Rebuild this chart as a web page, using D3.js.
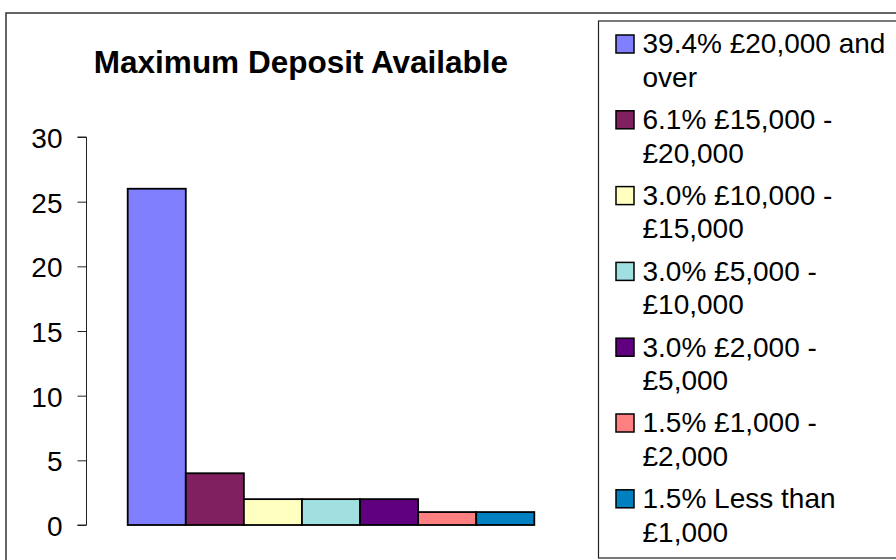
<!DOCTYPE html>
<html>
<head>
<meta charset="utf-8">
<script src="https://cdn.jsdelivr.net/npm/d3@7"></script>
<style>
  html, body { margin: 0; padding: 0; background: #fff; overflow: hidden; }
  svg { display: block; font-family: "Liberation Sans", Arial, sans-serif; }
</style>
</head>
<body>
<svg id="chart" width="896" height="560"></svg>
<script>
const title = "Maximum Deposit Available";
const categories = ["£20,000 and over", "£15,000 - £20,000", "£10,000 - £15,000",
  "£5,000 - £10,000", "£2,000 - £5,000", "£1,000 - £2,000", "Less than £1,000"];
const values = [26, 4, 2, 2, 2, 1, 1];
const percents = ["39.4%", "6.1%", "3.0%", "3.0%", "3.0%", "1.5%", "1.5%"];
const colors = ["#8080FF", "#802060", "#FFFFC0", "#A0E0E0", "#600080", "#FF8080", "#0080C0"];
const yTicks = [0, 5, 10, 15, 20, 25, 30];

const svg = d3.select("#chart");

// outer chart border
svg.append("rect").attr("x", 6).attr("y", 13).attr("width", 1000).attr("height", 1000)
  .attr("fill", "none").attr("stroke", "#333").attr("stroke-width", 1.5);

// plot area
const plot = { left: 86.5, right: 576, top: 137, bottom: 525 };
const y = d3.scaleLinear().domain([0, 30]).range([plot.bottom, plot.top]);
const x = d3.scaleBand().domain(categories).range([127.7, 534.3]).padding(0);

// title
svg.append("text").attr("x", 301).attr("y", 73.3).attr("text-anchor", "middle")
  .attr("font-size", 31.5).attr("font-weight", "bold").attr("fill", "#000").text(title);

// y axis
const yAxis = d3.axisLeft(y).tickValues(yTicks).tickSize(9).tickPadding(15).tickFormat(d3.format("d"));
const gy = svg.append("g").attr("transform", `translate(${plot.left},0)`).call(yAxis);
gy.select(".domain").attr("stroke", "#222").attr("d", `M-9,${y(30)}H0V${y(0)}H-9`);
gy.selectAll(".tick line").attr("stroke", "#222");
gy.selectAll(".tick text").attr("font-size", 28).attr("fill", "#000")
  .attr("font-family", "\"Liberation Sans\", Arial, sans-serif").attr("dy", "0.38em");

// bars
svg.append("g").selectAll("rect").data(values).join("rect")
  .attr("x", (d, i) => x(categories[i]))
  .attr("y", d => y(d))
  .attr("width", x.bandwidth())
  .attr("height", d => y(0) - y(d))
  .attr("fill", (d, i) => colors[i])
  .attr("stroke", "#000").attr("stroke-width", 1.8);

// legend box
svg.append("rect").attr("x", 598.5).attr("y", 21).attr("width", 400).attr("height", 537)
  .attr("fill", "#fff").attr("stroke", "#222").attr("stroke-width", 1.2);

const legendFirstBaseline = 53.3, itemStep = 75.8, lineStep = 33.4, textX = 642.5, maxW = 256;
const lg = svg.append("g");
categories.forEach((c, i) => {
  const base = legendFirstBaseline + i * itemStep;
  lg.append("rect").attr("x", 616).attr("y", base - 18.3).attr("width", 18).attr("height", 18)
    .attr("fill", colors[i]).attr("stroke", "#000").attr("stroke-width", 1.5);
  const words = (percents[i] + " " + c).split(" ");
  const t = lg.append("text").attr("x", textX).attr("y", base).attr("font-size", 28).attr("fill", "#000");
  let lines = [], cur = [];
  const probe = lg.append("text").attr("font-size", 28).attr("visibility", "hidden");
  words.forEach(w => {
    const tryLine = cur.concat([w]).join(" ");
    probe.text(tryLine);
    if (cur.length && probe.node().getComputedTextLength() > maxW) { lines.push(cur.join(" ")); cur = [w]; }
    else cur.push(w);
  });
  lines.push(cur.join(" "));
  probe.remove();
  lines.forEach((ln, k) => {
    t.append("tspan").attr("x", textX).attr("y", base + k * lineStep).text(ln);
  });
});
</script>
</body>
</html>
